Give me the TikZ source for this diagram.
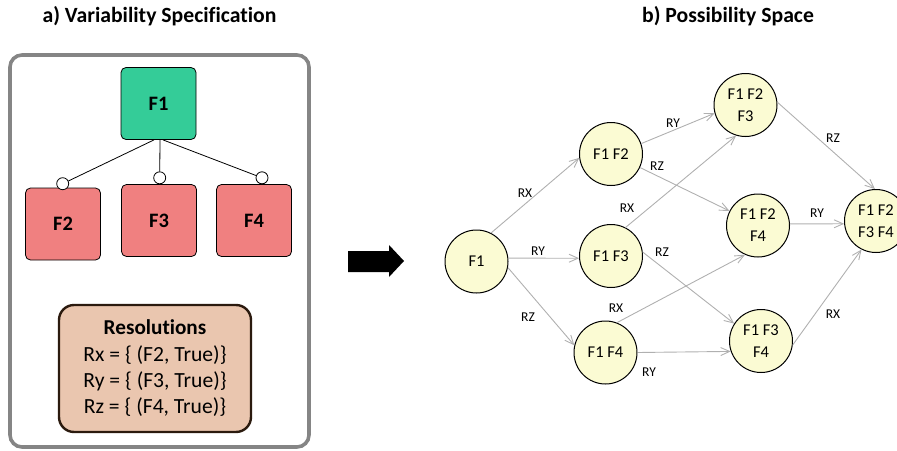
\documentclass[tikz,border=0pt]{standalone}
\usepackage{fontspec}
\setmainfont{Carlito}[Ligatures=NoCommon]
\usetikzlibrary{arrows.meta}
\definecolor{featgreen}{HTML}{34CC98}
\definecolor{featred}{HTML}{F08080}
\definecolor{resfill}{HTML}{EAC6AF}
\definecolor{resline}{HTML}{2B1A0E}
\definecolor{statefill}{HTML}{FBFBD3}
\definecolor{edgegray}{HTML}{B0B0B0}
\definecolor{framegray}{HTML}{858585}
\begin{document}
\begin{tikzpicture}[x=1pt,y=-1pt,
  title/.style={font=\fontsize{21.7}{24}\selectfont\bfseries},
  feat/.style={draw=black, line width=0.8pt, rounded corners=5pt,
    minimum width=75pt, minimum height=72pt, inner sep=0pt,
    font=\fontsize{20.5}{22}\selectfont\bfseries},
  optc/.style={circle, draw=black, fill=white, line width=0.8pt,
    minimum size=12pt, inner sep=0pt},
  tree/.style={draw=black, line width=0.8pt},
  state/.style={circle, draw=black, fill=statefill, line width=1pt,
    minimum size=63pt, inner sep=0pt, align=center,
    font=\fontsize{16.5}{22}\selectfont},
  trans/.style={draw=edgegray, line width=0.9pt,
    -{Straight Barb[length=9pt,width=8pt]}},
  lbl/.style={font=\fontsize{13.5}{14}\selectfont, inner sep=0pt}]
\useasboundingbox (0,0) rectangle (897,450);

% headings
\node[title] (ta) at (159.5,16) {a) Variability Specification};
\node[title] (tb) at (728,16) {b) Possibility Space};

% frame of the variability specification
\draw[framegray, line width=3.6pt, rounded corners=12pt] (10,55) rectangle (309,447);

% feature tree
\node[feat, fill=featgreen] (F1) at (158.5,103.5) {F1};
\node[feat, fill=featred] (F2) at (63,224) {F2};
\node[feat, fill=featred] (F3) at (159,220.5) {F3};
\node[feat, fill=featred] (F4) at (254,220.5) {F4};
\node[optc] (o2) at (62.7,183.7) {};
\node[optc] (o3) at (159.7,177.8) {};
\node[optc] (o4) at (262,177.8) {};
\draw[tree] ([xshift=-4.5pt]F1.south) -- (o2);
\draw[tree] ([xshift=1.5pt]F1.south) -- (o3);
\draw[tree] ([xshift=4.5pt]F1.south) -- (o4);

% resolutions
\node[draw=resline, fill=resfill, line width=2.4pt, rounded corners=15pt,
  minimum width=192pt, minimum height=127pt, align=center, inner sep=0pt,
  font=\fontsize{21.6}{26.3}\selectfont] (res) at (155,368.5)
  {{\fontsize{21.2}{26.3}\selectfont\bfseries Resolutions}\\Rx = \{ (F2, True)\}\\Ry = \{ (F3, True)\}\\Rz = \{ (F4, True)\}};

% block arrow between the panels
\fill[black] (348,251) -- (389,251) -- (389,245) -- (404,261) -- (389,277)
  -- (389,272) -- (348,272) -- cycle;

% possibility space
\node[state] (s1) at (476.5,261.5) {F1};
\node[state] (s12) at (611,154) {F1 F2};
\node[state] (s13) at (611,256) {F1 F3};
\node[state] (s14) at (605.5,352.5) {F1 F4};
\node[state] (s123) at (745.5,105) {F1 F2\\F3};
\node[state] (s124) at (758,225.5) {F1 F2\\F4};
\node[state] (s134) at (761,341) {F1 F3\\F4};
\node[state] (s1234) at (876,221) {F1 F2\\F3 F4};

\draw[trans] (s1.63) -- (s12.187);
\draw[trans] (s1.6) -- (s13.184);
\draw[trans] (s1.-11) -- (s14.167);
\draw[trans] (s12.19) -- (s123.195);
\draw[trans] (s12.-25) -- (s124.153);
\draw[trans] (s13.63) -- (s123.253);
\draw[trans] (s13.7) -- (s134.147);
\draw[trans] (s14.69) -- (s124.246);
\draw[trans] (s14.0) -- (s134.199);
\draw[trans] (s123.5) -- (s1234.92);
\draw[trans] (s124.3) -- (s1234.185);
\draw[trans] (s134.-7) -- (s1234.243);

% transition labels
\node[lbl] (l1) at (525,193) {RX};
\node[lbl] (l2) at (538,251) {RY};
\node[lbl] (l3) at (528,317) {RZ};
\node[lbl] (l4) at (673,123) {RY};
\node[lbl] (l5) at (657,166) {RZ};
\node[lbl] (l6) at (627,208) {RX};
\node[lbl] (l7) at (662,252) {RZ};
\node[lbl] (l8) at (616,308) {RX};
\node[lbl] (l9) at (649,372) {RY};
\node[lbl] (l10) at (833,138) {RZ};
\node[lbl] (l11) at (817,213) {RY};
\node[lbl] (l12) at (833,314) {RX};
\end{tikzpicture}
\end{document}
